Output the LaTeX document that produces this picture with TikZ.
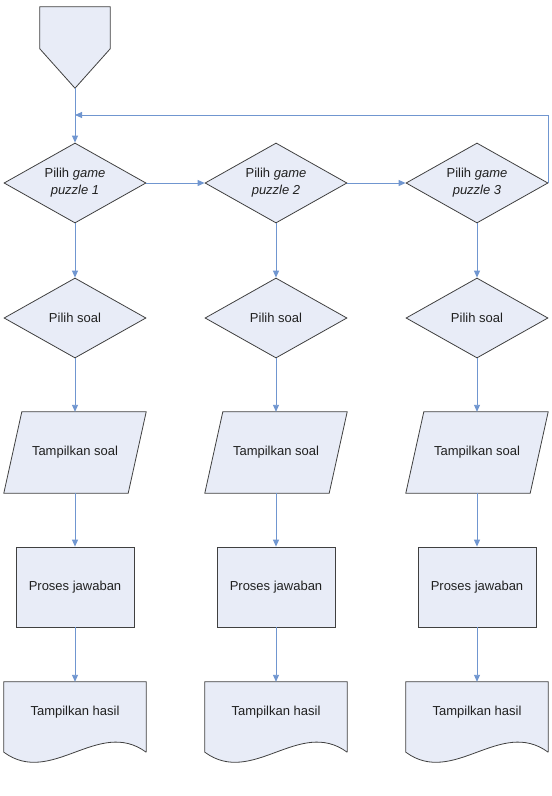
\documentclass[tikz,border=0pt]{standalone}
\usepackage{fontspec}
\setmainfont{Liberation Sans}
\usetikzlibrary{shapes.geometric,arrows.meta,calc}
\definecolor{boxfill}{HTML}{E8ECF7}
\definecolor{boxline}{HTML}{404040}
\definecolor{conn}{HTML}{7096D0}
\definecolor{txt}{HTML}{202020}
\tikzset{
  shapebase/.style={line width=0.8pt, draw=boxline, fill=boxfill},
  dec/.style={diamond, shapebase, minimum width=142pt, minimum height=80pt, inner sep=0pt, aspect=1.775, align=center, text=txt},
  procbox/.style={rectangle, shapebase, minimum width=118pt, minimum height=80pt, inner sep=0pt, text=txt},
  ghost/.style={rectangle, draw=none, inner sep=0pt},
  lbl/.style={text=txt, inner sep=0pt},
  conn/.style={draw=conn, line width=0.9pt, -{Triangle[length=7pt,width=6pt]}},
  connplain/.style={draw=conn, line width=0.9pt}
}
\begin{document}
\begin{tikzpicture}[x=1pt,y=-1pt,font=\fontsize{13}{17}\selectfont]
\useasboundingbox (0,0) rectangle (552,796);
% start shape
\node[ghost, minimum width=70pt, minimum height=81pt] (st) at (75,47.5) {};
\draw[shapebase] (st.north west) -- (st.north east) -- ($(st.north east)+(0,42)$) -- (st.south) -- ($(st.north west)+(0,42)$) -- cycle;
\coordinate (fbc) at (75,115);
\foreach \c/\n in {75/1,276/2,477/3}{
  \node[dec] (d\n) at (\c,183) {Pilih \textit{game}\\\textit{puzzle \n}};
  \node[dec] (p\n) at (\c,318) {Pilih soal};
  \node[ghost, minimum width=142pt, minimum height=81pt] (s\n) at (\c,452.5) {};
  \draw[shapebase] (s\n.south west) -- ($(s\n.north west)+(18,0)$) -- (s\n.north east) -- ($(s\n.south east)+(-18,0)$) -- cycle;
  \node[lbl] (st\n) at (s\n.center) {Tampilkan soal};
  \node[procbox] (j\n) at (\c,587) {Proses jawaban};
  \node[ghost, minimum width=142pt, minimum height=70pt] (h\n) at (\c,717) {};
  \draw[shapebase] (h\n.south east) -- (h\n.north east) -- (h\n.north west) -- (h\n.south west)
     .. controls ($(h\n.south west)+(47.7,35)$) and ($(h\n.south east)+(-47.7,-35)$) .. (h\n.south east);
  \node[lbl] (ht\n) at ([yshift=5pt]h\n.center) {Tampilkan hasil};
  \draw[conn] (d\n) -- (p\n);
  \draw[conn] (p\n) -- (s\n);
  \draw[conn] (s\n) -- (j\n);
  \draw[conn] (j\n) -- (h\n);
}
\draw[connplain] (st.south) -- (fbc);
\draw[conn] (fbc) -- (d1.north);
\draw[conn] (d3.east) |- (fbc);
\draw[conn] (d1.east) -- (d2.west);
\draw[conn] (d2.east) -- (d3.west);
\end{tikzpicture}
\end{document}
